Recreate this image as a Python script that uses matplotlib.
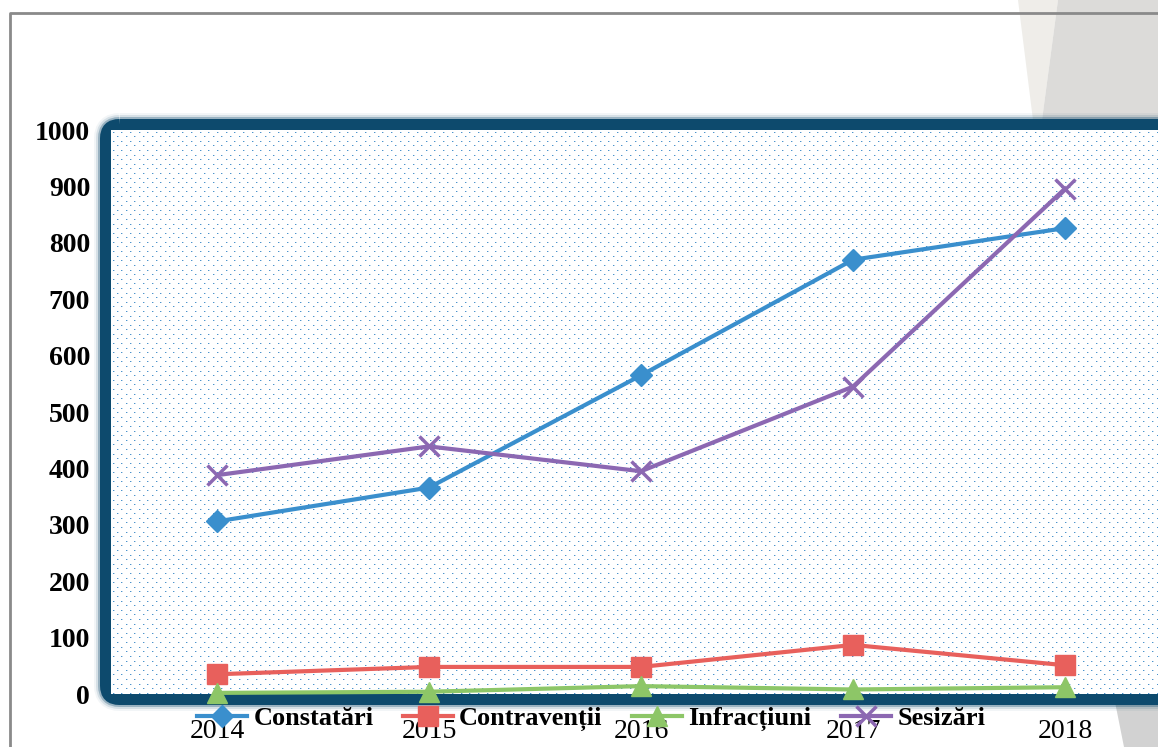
import numpy as np
import matplotlib
matplotlib.use("Agg")
import matplotlib.pyplot as plt
from matplotlib.patches import FancyBboxPatch, Polygon

# data
years = ["2014", "2015", "2016", "2017", "2018"]
constatari = [306, 366, 565, 770, 826]
contraventii = [35, 48, 48, 87, 51]
infractiuni = [2, 4, 14, 8, 12]
sesizari = [388, 439, 395, 545, 896]
yticks = [0, 100, 200, 300, 400, 500, 600, 700, 800, 900, 1000]

W, H = 1158, 747
fig = plt.figure(figsize=(W / 100, H / 100), dpi=100)
plt.rcParams['font.family'] = ['Liberation Serif', 'DejaVu Serif']

# background layer in pixel coordinates (origin top-left)
bg = fig.add_axes([0, 0, 1, 1], zorder=0)
bg.set_xlim(0, W)
bg.set_ylim(H, 0)
bg.axis('off')

# grey decoration on the right
bg.add_patch(Polygon([(1018, 0), (1058, 0), (1042, 120), (1033, 120)], closed=True,
                     fc='#efede9', ec='none'))
bg.add_patch(Polygon([(1058, 0), (W, 0), (W, 120), (1042, 120)], closed=True,
                     fc='#dcdbd9', ec='none'))
bg.add_patch(Polygon([(1115, 702), (W, 702), (W, H), (1124, H)], closed=True,
                     fc='#d2d2d2', ec='none'))

# outer thin frame
bg.plot([10, 10, W], [H, 13, 13], color='#8a8a8a', lw=2, solid_capstyle='butt')

# thick rounded border with soft glow
ax_l, ax_t, ax_r, ax_b = 111, 130, 1171, 694
for extra, alpha in [(12, 0.05), (8, 0.12), (4, 0.3), (0, 1.0)]:
    off = 5.5
    bw = 11 + extra
    bg.add_patch(FancyBboxPatch((ax_l - off, ax_t - off), (ax_r - ax_l) + 2 * off,
                                (ax_b - ax_t) + 2 * off,
                                boxstyle="round,pad=0,rounding_size=14",
                                fc='none', ec='#0d4a6d', lw=bw * 0.72, alpha=alpha))

# main axes
ax = fig.add_axes([ax_l / W, 1 - ax_b / H, (ax_r - ax_l) / W, (ax_b - ax_t) / H], zorder=1)
ax.patch.set_alpha(0)

# dotted background pattern
h, w = ax_b - ax_t, ax_r - ax_l
img = np.ones((h, w, 3))
dark = np.array([0.30, 0.58, 0.80])
light = np.array([0.74, 0.84, 0.92])
for k, yy in enumerate(np.arange(2, h, 4.6).astype(int)):
    xs = np.arange(2 + (k % 2) * 4.35, w - 1, 8.7).astype(int)
    for xx in xs:
        img[yy, xx] = dark
        img[yy, xx + 1] = light
ax.imshow(img, extent=(-0.5, 4.5, 0, 1000), aspect='auto', interpolation='nearest', zorder=0)

x = np.arange(len(years))
ax.plot(x, constatari, color='#3a8fcd', lw=3, marker='D', ms=11, label='Constatări', zorder=3)
ax.plot(x, contraventii, color='#e8605c', lw=3, marker='s', ms=14, label='Contravenții', zorder=3)
ax.plot(x, infractiuni, color='#8dc667', lw=3, marker='^', ms=15, label='Infracțiuni', zorder=3,
        clip_on=False)
ax.plot(x, sesizari, color='#8c68b2', lw=3, marker='x', ms=14, mew=2.5, label='Sesizări', zorder=3)

ax.set_xlim(-0.5, 4.5)
ax.set_ylim(0, 1000)
ax.set_xticks(x)
ax.set_xticklabels(years, fontsize=20)
ax.set_yticks(yticks)
ax.set_yticklabels([str(v) for v in yticks], fontsize=20, fontweight='bold')
ax.tick_params(axis='x', length=0, pad=18)
ax.tick_params(axis='y', length=0, pad=15)
for s in ax.spines.values():
    s.set_visible(False)

fig.legend(loc='center', bbox_to_anchor=(591 / W, 1 - 719 / H), ncol=4, frameon=False,
           prop={'family': 'Liberation Serif', 'weight': 'bold', 'size': 19},
           handlelength=1.9, handletextpad=0.25, columnspacing=1.1)

fig.savefig('out.png', dpi=100)
